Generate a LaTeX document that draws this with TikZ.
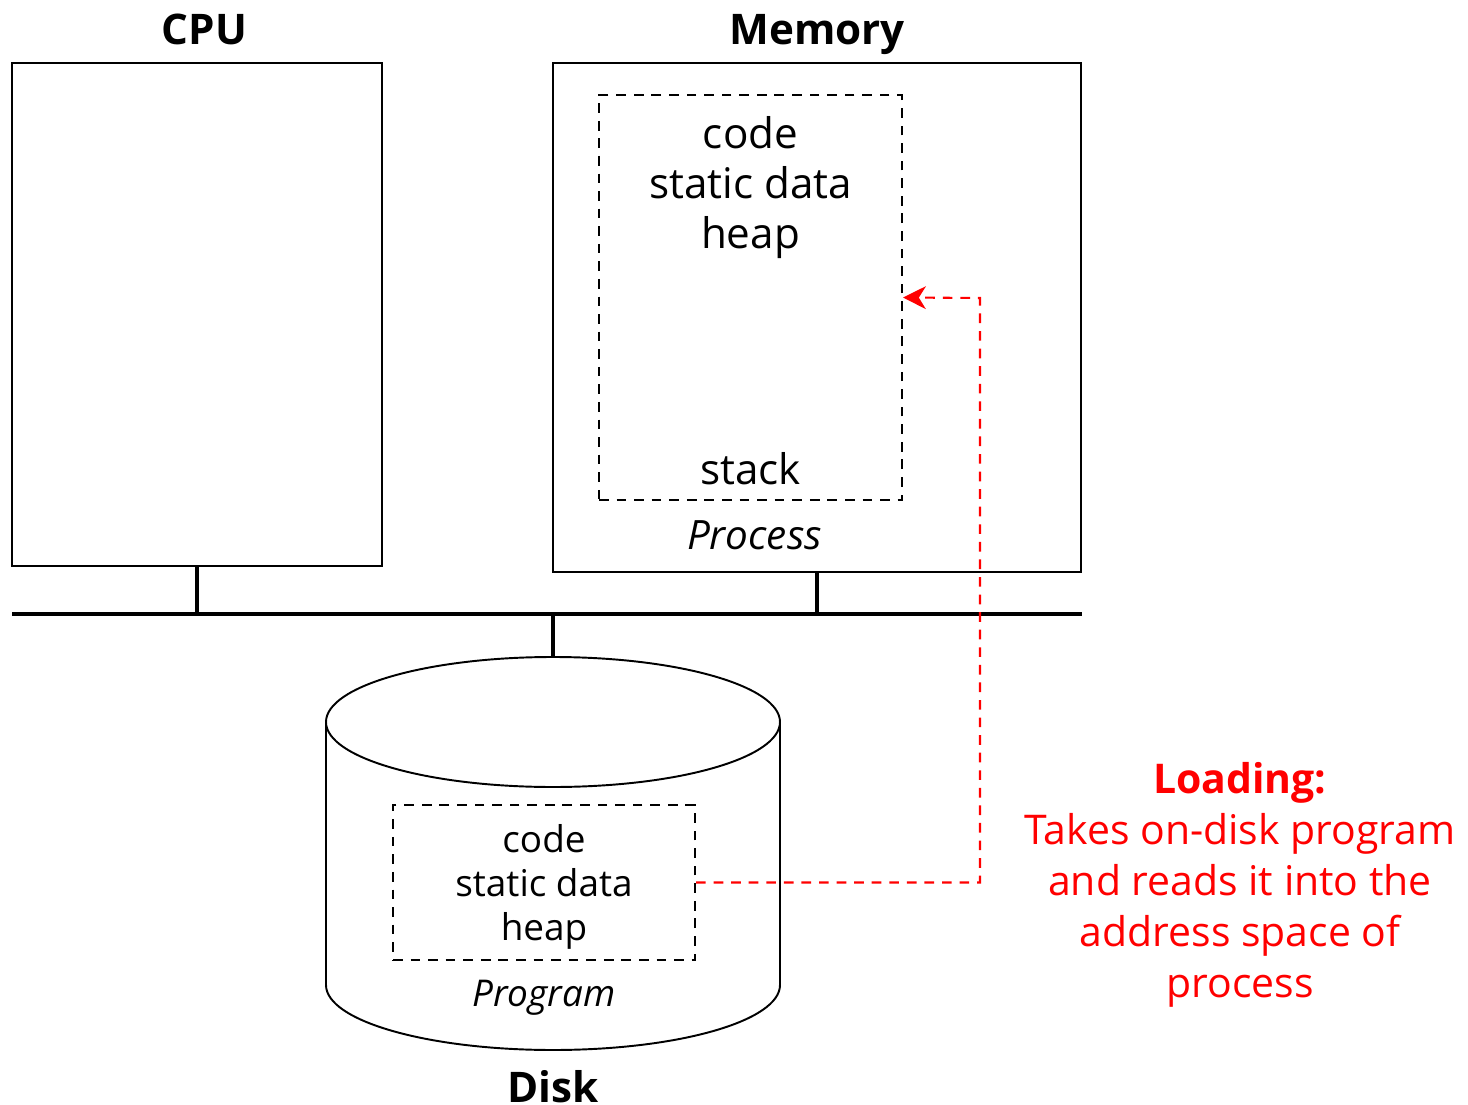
\documentclass[tikz,border=0pt]{standalone}
\usepackage{fontspec}
\setmainfont{Open Sans}
\usetikzlibrary{positioning}
\usetikzlibrary{arrows.meta}
\definecolor{loadred}{RGB}{255,0,0}
\tikzset{x=0.02cm, y=0.02cm, % one unit is one pixel of the layout
      box/.style={ % CPU and memory frames
      draw, line width=1.1pt, inner sep=0pt},
      seg/.style={ % dashed program / process areas
      draw, line width=1.2pt, dash pattern=on 5.5pt off 4.5pt, inner sep=0pt},
      title/.style={font=\fontsize{24}{28}\selectfont\bfseries},
      tag/.style={font=\fontsize{23}{28}\selectfont\itshape},
      bus/.style={line width=2.8pt},
      load/.style={ % the loading connector
      draw=loadred, line width=1.2pt, dash pattern=on 5.5pt off 4.5pt,
      -{Stealth[length=13pt,width=13pt,inset=4pt]}}}
\begin{document}
\begin{tikzpicture}
      \useasboundingbox (0,0) rectangle (1468,-1105);
      % boxes
      \node[box, minimum width=7.4cm, minimum height=10.06cm] (cpu) at (197,-314.5) {};
      \node[box, minimum width=10.56cm, minimum height=10.18cm] (mem) at (817,-317.5) {};
      \node[seg, minimum width=6.06cm, minimum height=8.1cm] (proc) at (750.5,-297.5) {};
      \node[title, above=0.36cm of cpu.north, anchor=base, xshift=0.15cm] (cputitle) {CPU};
      \node[title, above=0.36cm of mem.north, anchor=base] (memtitle) {Memory};
      \node[align=center, font=\fontsize{24}{28.45}\selectfont] (proctext) at (750.5,-188) {code\\static data\\heap};
      \node[font=\fontsize{24}{28.45}\selectfont] (stack) at (750.5,-469) {stack};
      \node[tag, below=0.27cm of proc.south, xshift=0.08cm] (proctag) {Process};
      % bus
      \coordinate (busL) at (12,-614);
      \coordinate (busR) at (1082,-614);
      \coordinate (disktop) at (553,-657);
      \draw[bus] (busL) -- (busR);
      \draw[bus] (cpu.south) -- (cpu.south |- busL);
      \draw[bus] (mem.south) -- (mem.south |- busL);
      \draw[bus] (disktop |- busL) -- (disktop);
      % disk
      \draw[line width=1.1pt] (326,-722) -- (326,-985) arc[start angle=180, end angle=360, x radius=227, y radius=65] -- (780,-722);
      \draw[line width=1.1pt] (553,-722) ellipse[x radius=227, y radius=65];
      \node[seg, minimum width=6.04cm, minimum height=3.1cm] (prog) at (544,-882.5) {};
      \node[align=center, font=\fontsize{21}{25}\selectfont] (progtext) at (544,-887) {code\\static data\\heap};
      \node[tag, font=\fontsize{21}{25}\selectfont\itshape, below=0.25cm of prog.south] (progtag) {Program};
      \node[title] (disktitle) at (553,-1087) {Disk};
      % loading
      \coordinate (bend) at (980,-298);
      \draw[load] (prog.east) -| (bend) -- (proc.east);
      \node[align=center, text=loadred, font=\fontsize{23.3}{29}\selectfont] (loadtext) at (1240,-885)
            {\textbf{Loading:}\\Takes on-disk program\\and reads it into the\\address space of\\process};
\end{tikzpicture}
\end{document}
